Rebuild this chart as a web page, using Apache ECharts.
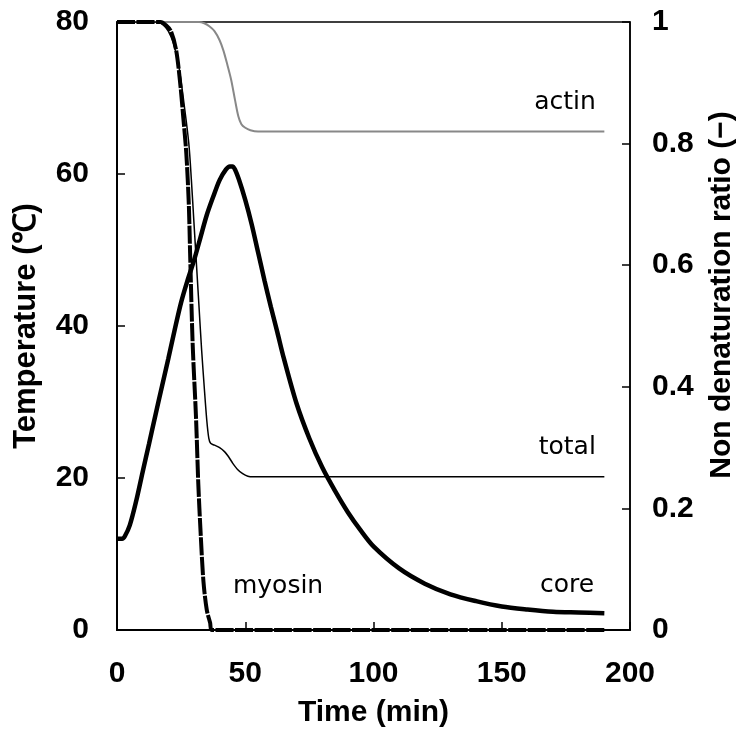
<!DOCTYPE html>
<html>
<head>
<meta charset="utf-8">
<script src="https://cdn.jsdelivr.net/npm/echarts@6/dist/echarts.min.js"></script>
<style>html,body{margin:0;padding:0;background:#fff;}#c{width:737px;height:733px;}</style>
</head>
<body>
<div id="c"></div>
<script>
// ---- data ----
var coreTime = [0,2,3,5,7.5,10,12.5,15,17.5,20,22.5,25,27.5,30,32.5,35,37.5,40,42.5,44,45,46,47.5,50,52.5,55,57.5,60,62.5,65,70,75,80,85,90,95,100,110,120,130,140,150,160,170,180,190];
var coreTemp = [12,12,12.3,13.8,17,20.8,24.5,28.3,32,35.7,39.5,43.1,46,48.6,51.6,54.6,57,59.2,60.6,61,61,60.6,59.3,56.6,53.4,49.7,46,42.5,39.2,35.8,29.8,25.2,21.4,18.3,15.5,13.1,11,8.1,6.1,4.7,3.8,3.1,2.7,2.4,2.3,2.2];

var myosinTime = [0,17,19,21,23,24.5,25.8,27,28,28.5,29.5,30.8,31.7,32.6,33.7,35,36.3,37,190];
var myosinRatio = [1,1,0.995,0.985,0.955,0.905,0.845,0.785,0.70,0.62,0.47,0.35,0.24,0.16,0.08,0.033,0.012,0,0];

var totalTime = [0,16,18,20,22,24,26,28,29,30,31,32,33,34,35,35.8,36.5,38,40,42,43.5,45,47,49,51,53,190];
var totalRatio = [1,1,0.995,0.985,0.965,0.93,0.87,0.80,0.74,0.67,0.60,0.53,0.46,0.40,0.345,0.315,0.307,0.304,0.30,0.293,0.285,0.275,0.264,0.257,0.253,0.252,0.252];

var actinTime = [0,32,34,36,38,40,41.5,43,44.5,46,47.3,48.5,50,52,55,190];
var actinRatio = [1,1,0.998,0.993,0.985,0.97,0.953,0.93,0.905,0.872,0.845,0.832,0.826,0.822,0.82,0.82];

var xTicks = [0,50,100,150,200];
var tempTicks = [0,20,40,60,80];
var ratioTicks = [0,0.2,0.4,0.6,0.8,1];

var labelsText = {actin:'actin', total:'total', myosin:'myosin', core:'core'};

function zip(a,b){return a.map(function(v,i){return [v,b[i]];});}

var chart = echarts.init(document.getElementById('c'), null, {renderer:'canvas'});
var boldFont = {fontFamily:'Liberation Sans', fontWeight:'bold', fontSize:30, color:'#000'};
var annFont = {fontFamily:'DejaVu Sans', fontWeight:'normal', fontSize:25, color:'#000'};

function mp(name, coord, align){
  return {
    symbol:'circle', symbolSize:0, silent:true,
    label:Object.assign({show:true, position:'inside', align:align, verticalAlign:'middle', formatter:name}, annFont),
    data:[{coord:coord, value:0}]
  };
}

chart.setOption({
  animation:false,
  backgroundColor:'#fff',
  grid:{left:117, right:107, top:22, bottom:103, show:true, borderColor:'#000', borderWidth:1.5, containLabel:false, outerBoundsMode:'none'},
  xAxis:{
    type:'value', min:xTicks[0], max:xTicks[xTicks.length-1], interval:50,
    name:'Time (min)', nameLocation:'middle', nameGap:68, nameTextStyle:boldFont,
    axisLine:{show:true, onZero:false, lineStyle:{color:'#000', width:2}},
    axisTick:{show:true, inside:true, length:8, lineStyle:{color:'#000', width:1.5}},
    axisLabel:Object.assign({margin:29}, boldFont),
    splitLine:{show:false}
  },
  yAxis:[{
    type:'value', min:tempTicks[0], max:tempTicks[tempTicks.length-1], interval:20, position:'left',
    name:'Temperature (℃)', nameLocation:'middle', nameGap:75, nameRotate:90,
    nameTextStyle:Object.assign({}, boldFont, {fontSize:31}),
    axisLine:{show:true, onZero:false, lineStyle:{color:'#000', width:2}},
    axisTick:{show:true, inside:true, length:8, lineStyle:{color:'#000', width:1.5}},
    axisLabel:Object.assign({margin:28}, boldFont),
    splitLine:{show:false}
  },{
    type:'value', min:ratioTicks[0], max:ratioTicks[ratioTicks.length-1], interval:0.2, position:'right',
    name:'Non denaturation ratio (−)', nameLocation:'middle', nameGap:77, nameRotate:90,
    nameTextStyle:Object.assign({padding:[0,0,0,62]}, boldFont),
    axisLine:{show:true, onZero:false, lineStyle:{color:'#000', width:1.5}},
    axisTick:{show:true, inside:true, length:8, lineStyle:{color:'#000', width:1.5}},
    axisLabel:Object.assign({margin:22, formatter:function(v){return String(Math.round(v*10)/10);}}, boldFont),
    splitLine:{show:false}
  }],
  series:[
    {type:'line', name:'actin', yAxisIndex:1, data:zip(actinTime, actinRatio), showSymbol:false, smooth:0.3,
     lineStyle:{color:'#888', width:2}, z:2, markPoint:mp(labelsText.actin,[186.7,0.867],'right')},
    {type:'line', name:'total', yAxisIndex:1, data:zip(totalTime, totalRatio), showSymbol:false, smooth:0.3,
     lineStyle:{color:'#000', width:1.5}, z:3, markPoint:mp(labelsText.total,[186.7,0.30],'right')},
    {type:'line', name:'core', yAxisIndex:0, data:zip(coreTime, coreTemp), showSymbol:false, smooth:0.3,
     lineStyle:{color:'#000', width:4.5}, z:4, markPoint:mp(labelsText.core,[186,5.8],'right')},
    {type:'line', name:'myosin', yAxisIndex:1, data:zip(myosinTime, myosinRatio), showSymbol:false, smooth:0.3,
     lineStyle:{color:'#000', width:4, type:[18,1.5]}, z:5, markPoint:mp(labelsText.myosin,[45.2,0.072],'left')}
  ]
});
</script>
</body>
</html>
